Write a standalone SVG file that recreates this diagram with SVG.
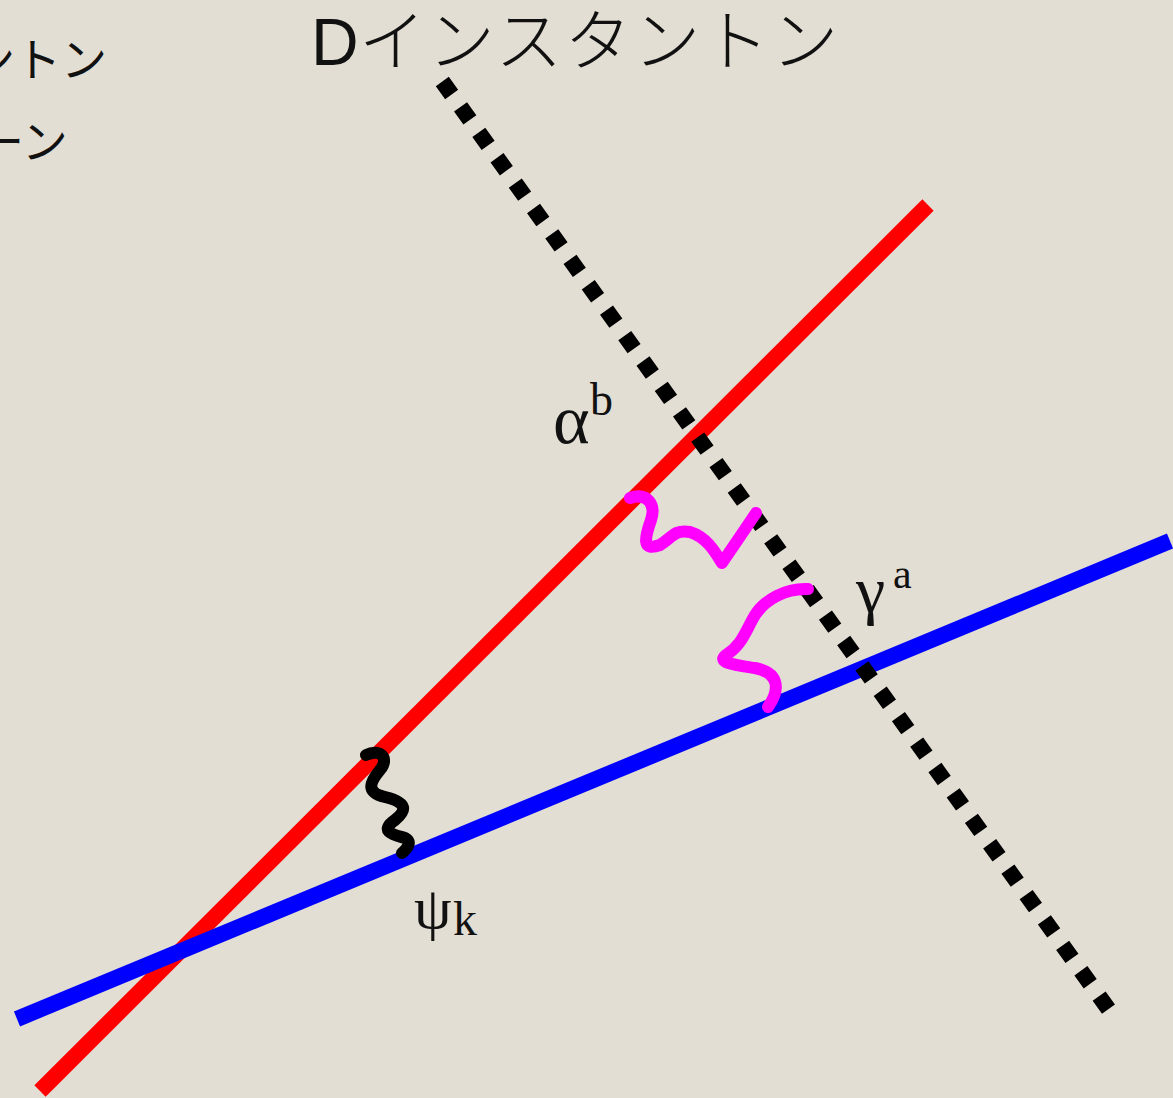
<svg xmlns="http://www.w3.org/2000/svg" width="1173" height="1098" viewBox="0 0 1173 1098">
<style>
.jp{font-family:"Noto Sans CJK JP","Noto Sans",sans-serif;fill:#111}
.greek{font-family:"Liberation Serif","DejaVu Serif",serif;fill:#111}
.wave{fill:none;stroke-width:12;stroke-linecap:round;stroke-linejoin:round}
</style>
<rect width="1173" height="1098" fill="#e3ded3"/>
<g id="legend">
<text class="jp" x="-31" y="76" font-size="46">ントン</text>
<text class="jp" x="-22" y="158" font-size="46">ーン</text>
</g>
<g id="title">
<text x="311" y="65" font-size="66"><tspan font-family="Liberation Sans, sans-serif" fill="#111">D</tspan><tspan class="jp" font-weight="300" font-size="67" letter-spacing="2">インスタントン</tspan></text>
</g>
<g id="connectors">
<line id="red-brane" x1="40" y1="1091" x2="928" y2="205" stroke="#ff0000" stroke-width="16"/>
<line id="blue-brane" x1="17" y1="1019" x2="1170" y2="541" stroke="#0000ff" stroke-width="16"/>
<line id="d-instanton" x1="442.3" y1="81.5" x2="1108.7" y2="1009.5" stroke="#000" stroke-width="16" stroke-dasharray="16 15.28"/>
<path id="wave-alpha" class="wave" stroke="#ff00ff" d="M630,498 C648,492 656,505 651,520 C645,537 641,552 660,545 C672,538 674,529 690,532 C706,537 714,550 722,563 L756,513"/>
<path id="wave-gamma" class="wave" stroke="#ff00ff" d="M808,589 C785,588 765,600 755,615 C745,632 742,645 726,655 C716,663 735,665 755,668 C780,673 780,690 768,707"/>
<path id="wave-psi" class="wave" stroke="#000" d="M366,755 C380,748 390,758 380,770 C370,782 365,792 385,797 C410,803 405,812 395,820 C378,832 395,835 405,838 C412,842 408,848 402,853"/>
</g>
<g id="label-alpha">
<text class="greek" x="553" y="443" font-size="70">α</text>
<text class="greek" x="590" y="415" font-size="46">b</text>
</g>
<g id="label-gamma">
<text class="greek" x="856" y="612" font-size="66">γ</text>
<text class="greek" x="893" y="588" font-size="42">a</text>
</g>
<g id="label-psi">
<text class="greek" x="414" y="928" font-size="60">ψ</text>
<text class="greek" x="453" y="935" font-size="48">k</text>
</g>
</svg>
